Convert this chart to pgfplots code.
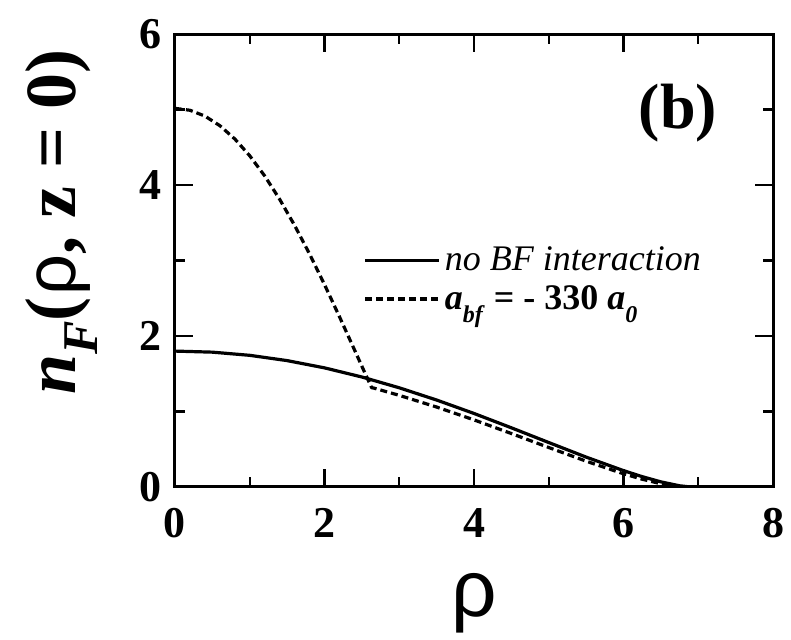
\documentclass[border=0pt]{standalone}
\usepackage{fontspec}
\setmainfont{Liberation Serif}
\newfontfamily\sansfont{Liberation Sans}
\usepackage{pgfplots}
\pgfplotsset{compat=1.18}

\begin{document}
\begin{tikzpicture}
\begin{axis}[
  scale only axis, width=299pt, height=226.5pt,
  xmin=0, xmax=8, ymin=0, ymax=6,
  xtick={0,2,4,6,8}, ytick={0,2,4,6},
  minor xtick={1,3,5,7}, minor ytick={1,3,5},
  tick align=inside,
  major tick length=9pt, minor tick length=5pt,
  every tick/.style={black, line width=1.2pt},
  axis line style={line width=1.5pt},
  /pgf/number format/assume math mode=true,
  tick label style={font=\fontsize{22}{22}\selectfont\bfseries},
  xticklabel style={yshift=-7pt},
  yticklabel style={xshift=-3pt},
  xlabel={\sansfont\fontsize{40}{40}\selectfont ρ},
  xlabel style={yshift=-11pt},
  ylabel={\fontsize{36}{36}\selectfont\bfseries\textit{n}\raisebox{-0.3em}{\fontsize{25}{25}\selectfont\textit{F}}(\kern0.03em{\sansfont\mdseries ρ}, z = 0)},
  ylabel style={at={(axis description cs:-0.19,0.585)}, anchor=center},
  legend style={at={(axis description cs:0.315,0.54)}, anchor=north west, draw=none, fill=none,
    font=\fontsize{18}{18}\selectfont, row sep=2pt, inner sep=0pt},
  legend cell align=left,
  legend image code/.code={\draw[#1] (0pt,0pt) -- (37pt,0pt);},
]
\addplot[black, line width=1.6pt, line join=round] coordinates {
(0,1.800) (0.5,1.786) (1.0,1.744) (1.5,1.674) (2.0,1.578) (2.5,1.457)
(3.0,1.314) (3.5,1.152) (4.0,0.974) (4.5,0.784) (5.0,0.589) (5.5,0.396)
(6.0,0.217) (6.25,0.137) (6.5,0.068) (6.75,0.016) (6.9,0)
};
\addlegendentry{\textit{no BF interaction}}
\addplot[black, line width=1.6pt, line join=round, dash pattern=on 3.5pt off 2pt] coordinates {
(0,5.015) (0.2,4.990) (0.4,4.913) (0.6,4.786) (0.8,4.610) (1.0,4.387)
(1.2,4.120) (1.4,3.811) (1.6,3.465) (1.8,3.087) (2.0,2.681) (2.2,2.256)
(2.4,1.819) (2.5,1.599) (2.6,1.381) (2.63,1.316) (2.66,1.31)
(3.0,1.214) (3.5,1.059) (4.0,0.889) (4.5,0.708) (5.0,0.523) (5.5,0.342)
(6.0,0.175) (6.25,0.103) (6.5,0.043) (6.65,0.015) (6.8,0)
};
\addlegendentry{\bfseries\textit{a}\raisebox{-0.35em}{\fontsize{12}{12}\selectfont\textit{bf}} = - 330 \textit{a}\raisebox{-0.35em}{\fontsize{12}{12}\selectfont\textit{0}}}
\node at (axis cs:6.73,4.95) {\fontsize{32}{32}\selectfont\bfseries (b)};
\end{axis}
\pgfresetboundingbox
\path[use as bounding box] ([xshift=-87.5pt,yshift=-76.5pt]current axis.south west) rectangle ([xshift=9pt,yshift=17pt]current axis.north east);
\end{tikzpicture}
\end{document}
